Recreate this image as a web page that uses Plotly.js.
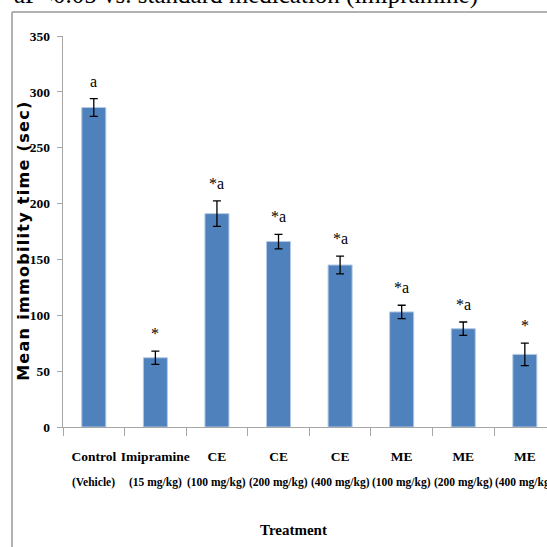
<!DOCTYPE html>
<html>
<head>
<meta charset="utf-8">
<script src="https://cdn.plot.ly/plotly-3.0.1.min.js"></script>
<style>
html,body{margin:0;padding:0;background:#fff;}
#chart{width:547px;height:547px;}
.annotation-text[data-unformatted^="Mean"]{letter-spacing:1.3px;}
</style>
</head>
<body>
<div id="chart"></div>
<script>
var categories = ["Control (Vehicle)", "Imipramine (15 mg/kg)", "CE (100 mg/kg)", "CE (200 mg/kg)", "CE (400 mg/kg)", "ME (100 mg/kg)", "ME (200 mg/kg)", "ME (400 mg/kg)"];
var labelLine1 = ["Control", "Imipramine", "CE", "CE", "CE", "ME", "ME", "ME"];
var labelLine2 = ["(Vehicle)", "(15 mg/kg)", "(100 mg/kg)", "(200 mg/kg)", "(400 mg/kg)", "(100 mg/kg)", "(200 mg/kg)", "(400 mg/kg)"];
var meanValues = [286, 62, 191, 166, 145, 103, 88, 65];
var semValues = [8, 6, 11.5, 6.5, 8, 6, 6, 10];
var significance = ["a", "*", "*a", "*a", "*a", "*a", "*a", "*"];
var yTickVals = [0, 50, 100, 150, 200, 250, 300, 350];

var serif = "Liberation Serif, Times New Roman, serif";

var annotations = [];
for (var i = 0; i < categories.length; i++) {
  annotations.push({
    x: categories[i], y: meanValues[i] + semValues[i], xref: "x", yref: "y",
    text: significance[i], showarrow: false, yanchor: "bottom", yshift: 7,
    font: {family: serif, size: 16, color: "#000"}
  });
  annotations.push({
    x: categories[i], y: -0.143, xref: "x", yref: "paper",
    text: labelLine2[i], showarrow: false, yanchor: "middle",
    font: {family: serif, size: 11.5, color: "#000", weight: "bold"}
  });
}
annotations.push({
  x: 0.476, y: -0.263, xref: "paper", yref: "paper", text: "Treatment",
  showarrow: false, yanchor: "middle", xanchor: "center",
  font: {family: serif, size: 15, color: "#000", weight: "bold"}
});
annotations.push({
  x: -0.0806, y: 0.476, xref: "paper", yref: "paper", text: "Mean immobility time (sec)",
  showarrow: false, textangle: -90, xanchor: "center", yanchor: "middle",
  font: {family: "DejaVu Sans, sans-serif", size: 16, color: "#000", weight: "bold"}
});
annotations.push({
  x: -0.1054, y: 1.104, xref: "paper", yref: "paper",
  text: "aP<0.05 vs. standard medication (imipramine)",
  showarrow: false, xanchor: "left", yanchor: "middle",
  font: {family: serif, size: 25, color: "#000"}
});

var trace = {
  type: "bar",
  x: categories,
  y: meanValues,
  width: 0.39,
  marker: {color: "#4f81bd", line: {color: "#b3c9e4", width: 1}},
  error_y: {type: "data", array: semValues, visible: true, color: "#000", thickness: 1.3, width: 4},
  hoverinfo: "none"
};

var layout = {
  width: 547, height: 547,
  margin: {l: 63, r: 0, t: 36, b: 120},
  paper_bgcolor: "#fff", plot_bgcolor: "#fff",
  showlegend: false,
  bargap: 0.61,
  xaxis: {
    type: "category",
    range: [-0.5, 7.36],
    tickvals: categories, ticktext: labelLine1,
    tickson: "boundaries",
    tickangle: 0,
    ticks: "outside", ticklen: 8, tickcolor: "#a6a6a6",
    showline: true, linecolor: "#a6a6a6", linewidth: 1.3,
    showgrid: false, zeroline: false,
    ticklabelstandoff: 16,
    tickfont: {family: serif, size: 13.5, color: "#000", weight: "bold"}
  },
  yaxis: {
    range: [0, 350],
    tickvals: yTickVals,
    ticks: "outside", ticklen: 5, tickcolor: "#a6a6a6",
    showline: true, linecolor: "#a6a6a6", linewidth: 1.3,
    showgrid: false, zeroline: false,
    ticklabelstandoff: 4,
    tickfont: {family: serif, size: 13.5, color: "#000", weight: "bold"}
  },
  shapes: [
    {type: "line", xref: "paper", yref: "paper", x0: -0.1054, x1: 1.2, y0: 1.0614, y1: 1.0614, line: {color: "#999", width: 1.5}},
    {type: "line", xref: "paper", yref: "paper", x0: -0.1054, x1: -0.1054, y0: 1.0614, y1: -0.4, line: {color: "#999", width: 1.5}}
  ],
  annotations: annotations
};

Plotly.newPlot("chart", [trace], layout, {displayModeBar: false, staticPlot: true});
</script>
</body>
</html>
